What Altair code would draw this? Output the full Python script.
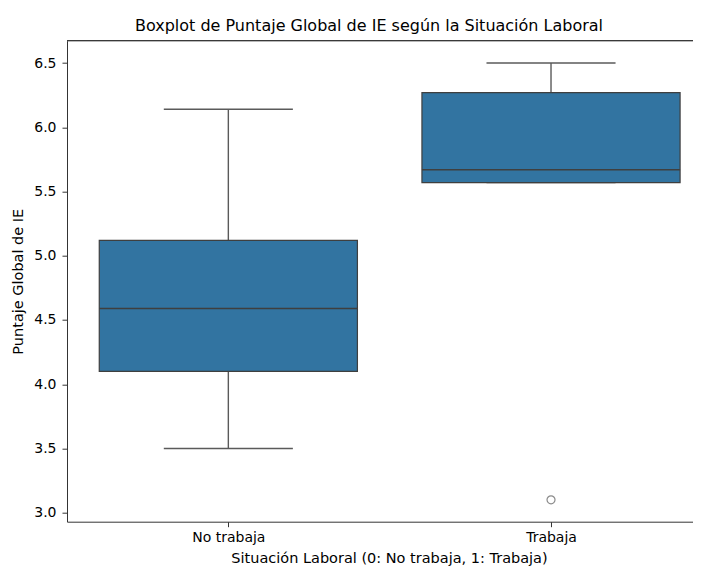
import json
import altair as alt
import pandas as pd

# ---- data ----
categories = ["No trabaja", "Trabaja"]
whisker_low = [3.50, 5.57]
q1 = [4.10, 5.57]
median = [4.59, 5.67]
q3 = [5.12, 6.27]
whisker_high = [6.14, 6.50]

outlier_cat = ["Trabaja"]
outlier_val = [3.10]

y_ticks = [3.0, 3.5, 4.0, 4.5, 5.0, 5.5, 6.0, 6.5]

stats = pd.DataFrame({
    "cat": categories,
    "idx": list(range(len(categories))),
    "lo": whisker_low,
    "q1": q1,
    "med": median,
    "q3": q3,
    "hi": whisker_high,
})
outl = pd.DataFrame({
    "cat": outlier_cat,
    "idx": [categories.index(c) for c in outlier_cat],
    "val": outlier_val,
})

FONT = "DejaVu Sans"
FILL = "#3274a1"
LINE = "#3f3f3f"
SPINE = "#333333"

x_scale = alt.Scale(domain=[-0.5, 1.44], nice=False, zero=False)
y_scale = alt.Scale(domain=[2.93, 6.674], nice=False, zero=False)

x_axis = alt.Axis(
    values=[0, 1],
    labelExpr=json.dumps(categories) + "[datum.value]",
    title="Situación Laboral (0: No trabaja, 1: Trabaja)",
    grid=False, tickSize=5, labelPadding=4, titlePadding=7,
    titleX=322,
)
y_axis = alt.Axis(
    values=y_ticks, format=".1f", title="Puntaje Global de IE",
    grid=False, tickSize=5, labelPadding=6, titlePadding=8,
)

base = alt.Chart(stats).transform_calculate(
    box_l="datum.idx - 0.4",
    box_r="datum.idx + 0.4",
    cap_l="datum.idx - 0.2",
    cap_r="datum.idx + 0.2",
)

whisk = base.mark_rule(color="#5a5a5a", strokeWidth=1.4).encode(
    x=alt.X("idx:Q", scale=x_scale, axis=x_axis),
    y=alt.Y("lo:Q", scale=y_scale, axis=y_axis),
    y2="hi:Q",
)
cap_lo = base.mark_rule(color="#5a5a5a", strokeWidth=1.4).encode(
    x=alt.X("cap_l:Q", scale=x_scale), x2="cap_r:Q",
    y=alt.Y("lo:Q", scale=y_scale),
)
cap_hi = base.mark_rule(color="#5a5a5a", strokeWidth=1.4).encode(
    x=alt.X("cap_l:Q", scale=x_scale), x2="cap_r:Q",
    y=alt.Y("hi:Q", scale=y_scale),
)
box = base.mark_rect(fill=FILL, stroke=LINE, strokeWidth=1.2).encode(
    x=alt.X("box_l:Q", scale=x_scale), x2="box_r:Q",
    y=alt.Y("q1:Q", scale=y_scale), y2="q3:Q",
)
med = base.mark_rule(color=LINE, strokeWidth=1.5).encode(
    x=alt.X("box_l:Q", scale=x_scale), x2="box_r:Q",
    y=alt.Y("med:Q", scale=y_scale),
)
pts = alt.Chart(outl).mark_point(
    shape="circle", filled=False, color="#5a5a5a", size=64, strokeWidth=1.2
).encode(
    x=alt.X("idx:Q", scale=x_scale),
    y=alt.Y("val:Q", scale=y_scale),
)
# top spine (the right spine lies outside the reference's crop)
top_spine = alt.Chart(stats).mark_rule(color=SPINE, strokeWidth=1).encode(
    x=alt.value(0), x2=alt.value(626), y=alt.value(0)
)

chart = alt.layer(whisk, cap_lo, cap_hi, box, med, pts, top_spine).properties(
    width=626,
    height=481,
    autosize="none",
    padding={"left": 59, "top": 32.7, "right": 0, "bottom": 48},
    title=alt.TitleParams(
        "Boxplot de Puntaje Global de IE según la Situación Laboral",
        font=FONT, fontSize=16, fontWeight="normal", color="#000000",
        anchor="middle", dx=-11, offset=6,
    ),
).configure_view(
    stroke=None
).configure_axis(
    labelFont=FONT, titleFont=FONT, labelFontSize=14, titleFontSize=14.5,
    titleFontWeight="normal", labelColor="#000000", titleColor="#000000",
    domainColor=SPINE, tickColor=SPINE, domainWidth=1, tickWidth=1,
)

chart.save("out.html", embed_options={"renderer": "svg", "actions": False})
